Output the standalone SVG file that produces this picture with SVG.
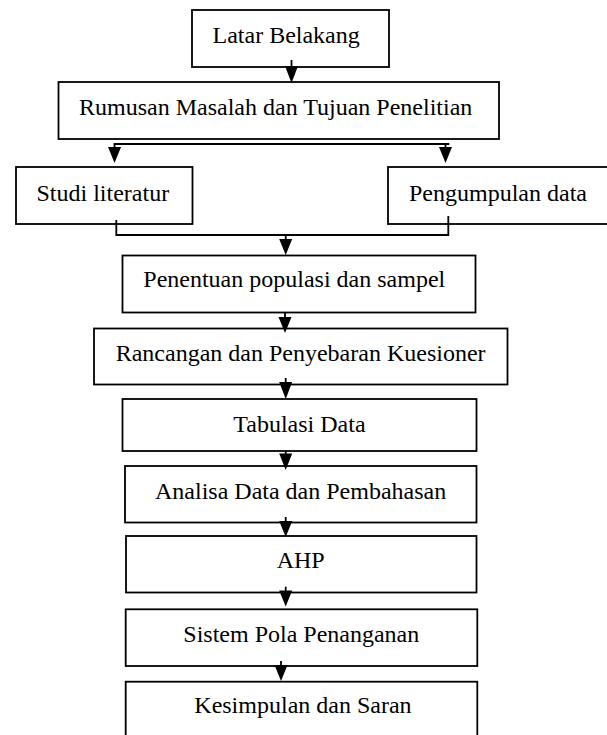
<svg xmlns="http://www.w3.org/2000/svg" width="607" height="735" viewBox="0 0 607 735">
<style>
.box{fill:#fff;stroke:#000;stroke-width:1.8}
.lbl{font-family:"Liberation Serif","Times New Roman",serif;font-size:24px;fill:#000}
.ln{fill:none;stroke:#000;stroke-width:1.8}
.hd{fill:#000;stroke:none}
</style>
<rect width="607" height="735" fill="#fff"/>
<g id="n1"><rect class="box" x="192" y="10" width="197" height="57"/><text class="lbl" x="212.5" y="43.3">Latar Belakang</text></g>
<g id="n2"><rect class="box" x="58.5" y="82" width="440.5" height="57"/><text class="lbl" x="79" y="115">Rumusan Masalah dan Tujuan Penelitian</text></g>
<g id="n3"><rect class="box" x="16" y="167" width="176.5" height="57"/><text class="lbl" x="36.5" y="200.7">Studi literatur</text></g>
<g id="n4"><rect class="box" x="388" y="167" width="225" height="57"/><text class="lbl" x="409" y="200.7">Pengumpulan data</text></g>
<g id="n5"><rect class="box" x="122.5" y="255.5" width="353" height="57"/><text class="lbl" x="143.3" y="287.3">Penentuan populasi dan sampel</text></g>
<g id="n6"><rect class="box" x="94" y="328.5" width="413.5" height="56"/><text class="lbl" x="115.7" y="360.7">Rancangan dan Penyebaran Kuesioner</text></g>
<g id="n7"><rect class="box" x="122.5" y="399" width="354" height="52"/><text class="lbl" x="233.3" y="432.3">Tabulasi Data</text></g>
<g id="n8"><rect class="box" x="125" y="466" width="351.5" height="56.5"/><text class="lbl" x="155" y="499">Analisa Data dan Pembahasan</text></g>
<g id="n9"><rect class="box" x="126" y="536" width="350.5" height="56.5"/><text class="lbl" x="276.7" y="568.3">AHP</text></g>
<g id="n10"><rect class="box" x="125.7" y="609.3" width="351.6" height="56.7"/><text class="lbl" x="183.3" y="641.7">Sistem Pola Penanganan</text></g>
<g id="n11"><rect class="box" x="125.7" y="681.7" width="351.6" height="70"/><text class="lbl" x="194.3" y="713.3">Kesimpulan dan Saran</text></g>
<g id="connectors">
<path class="ln" d="M291.5 60 V67"/>
<polygon class="hd" points="285,66 298,66 291.5,83"/>
<path class="ln" d="M114.5 148 V144 H449.3"/>
<path class="ln" d="M445.5 144 V148"/>
<polygon class="hd" points="108,147 121,147 114.5,163"/>
<polygon class="hd" points="439,147 452,147 445.5,163"/>
<path class="ln" d="M116.3 220 V235 H448.3 V216"/>
<path class="ln" d="M285.7 235 V240"/>
<polygon class="hd" points="279.2,239 292.2,239 285.7,255"/>
<path class="ln" d="M285 312.7 V318"/>
<polygon class="hd" points="278.5,317 291.5,317 285,333"/>
<path class="ln" d="M285.7 378 V383"/>
<polygon class="hd" points="279.2,382 292.2,382 285.7,399"/>
<path class="ln" d="M285.7 451 V455"/>
<polygon class="hd" points="279.2,453.5 292.2,453.5 285.7,470"/>
<path class="ln" d="M285.7 517 V522"/>
<polygon class="hd" points="279.2,521 292.2,521 285.7,537"/>
<path class="ln" d="M285.7 586.7 V592"/>
<polygon class="hd" points="279.2,590.5 292.2,590.5 285.7,606.5"/>
<path class="ln" d="M281 661 V666"/>
<polygon class="hd" points="274.5,665 287.5,665 281,681"/>
</g>
</svg>
